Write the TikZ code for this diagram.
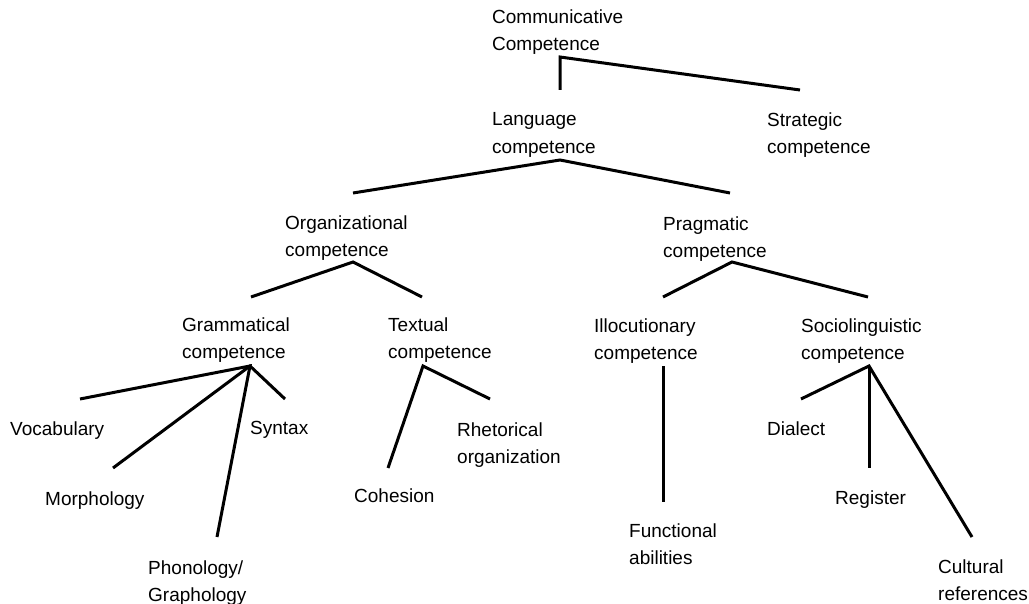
\documentclass[tikz,border=0pt]{standalone}
\usepackage{fontspec}
\setmainfont{Liberation Sans}
\usetikzlibrary{positioning}

\begin{document}
\begin{tikzpicture}[x=1pt, y=-1pt,
                    Label/.style={anchor=north west, inner sep=0pt, align=left,
                                  font=\fontsize{19}{27.5}\selectfont},
                    Branch/.style={line width=3pt, black}
                    ]

    \useasboundingbox (0,0) rectangle (1029,604);

    % LABELS %
    \foreach \name/\x/\y/\txt in {
        comm/492/9.5/{Communicative\\Competence},
        lang/492/112.5/{Language\\competence},
        strat/767/112.5/{Strategic\\competence},
        org/285/215.5/{Organizational\\competence},
        prag/663/216.5/{Pragmatic\\competence},
        gram/182/317.5/{Grammatical\\competence},
        text/388/317.5/{Textual\\competence},
        illoc/594/318.5/{Illocutionary\\competence},
        socio/801/318.5/{Sociolinguistic\\competence},
        vocab/10/421.5/{Vocabulary},
        syntax/250/421.5/{Syntax},
        morph/45/491.5/{Morphology},
        phon/148/560.5/{Phonology/\\Graphology},
        cohes/354/489/{Cohesion},
        rhet/457/422.5/{Rhetorical\\organization},
        func/629/523.5/{Functional\\abilities},
        dial/767/421.5/{Dialect},
        regis/835/490.5/{Register},
        cult/938/559.5/{Cultural\\references}}
    \node[Label] (\name) at (\x,\y) {\txt};

    % BRANCH POINTS %
    \foreach \n/\x/\y in {c0/560/57, c1/560/90, c2/800/90,
                          l0/560/160, l1/353/193, l2/730/193,
                          o0/353/262, o1/251/297, o2/422/297,
                          p0/732/262, p1/663/297, p2/868/297,
                          g0/250/366, g1/80/399, g2/113/468, g3/217/537, g4/285/399,
                          t0/423/366, t1/388/468, t2/490/399,
                          i0/663/366, i1/663/502,
                          s0/869/366, s1/801/399, s2/869/468, s3/972/537}
    \coordinate (\n) at (\x,\y);

    % BRANCHES %
    \foreach \u/\v/\w in {c1/c0/c2, l1/l0/l2, o1/o0/o2, p1/p0/p2,
                          g1/g0/g3, g2/g0/g4, t1/t0/t2, s1/s0/s3}
    \draw[Branch] (\u) -- (\v) -- (\w);

    \draw[Branch] (i0) -- (i1);
    \draw[Branch] (s0) -- (s2);

\end{tikzpicture}
\end{document}
